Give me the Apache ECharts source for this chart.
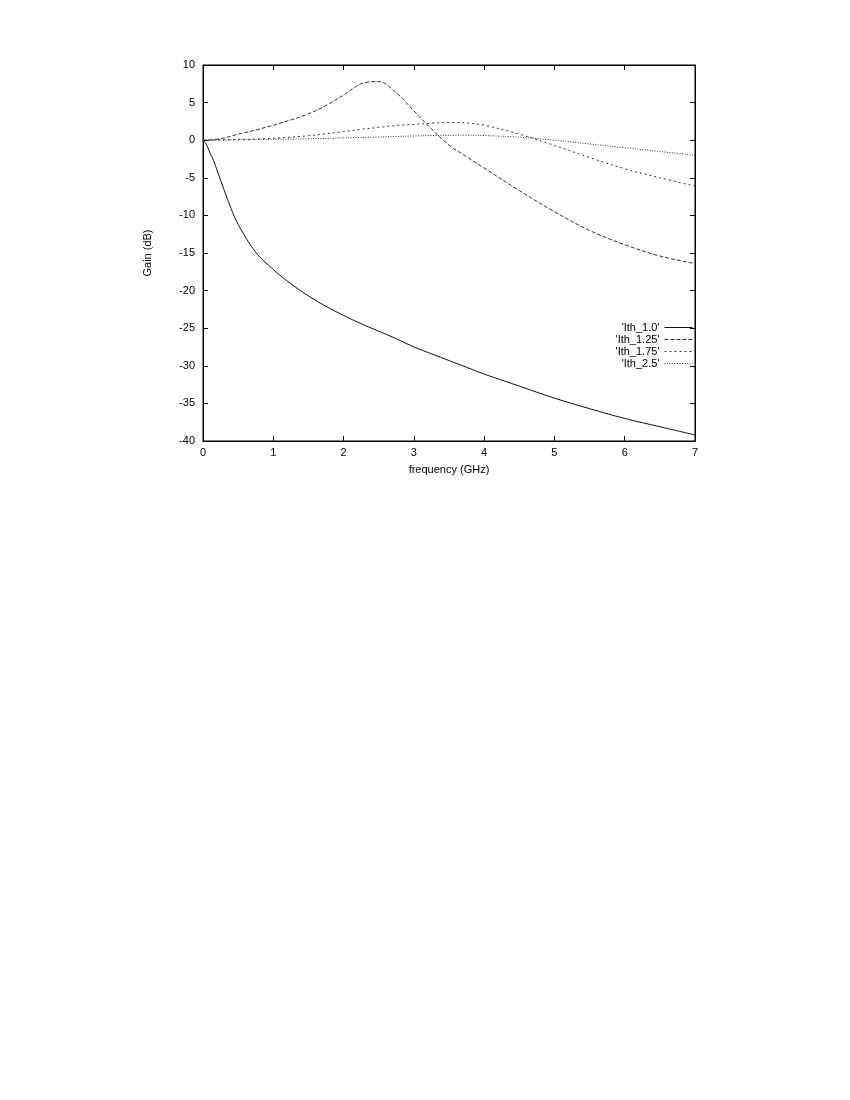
<!DOCTYPE html>
<html>
<head>
<meta charset="utf-8">
<script src="https://cdn.jsdelivr.net/npm/echarts@6/dist/echarts.min.js"></script>
<style>
  body { margin: 0; background: #fff; }
  #gain { width: 850px; height: 1100px; }
</style>
</head>
<body>
<div id="gain"></div>
<script>
// frequency points (GHz)
const freq = [0, 0.05, 0.1, 0.15, 0.2, 0.3, 0.4, 0.5, 0.75, 1, 1.25, 1.5, 1.75, 2, 2.25, 2.5, 2.75, 3, 3.25, 3.5, 3.75, 4, 4.5, 5, 5.5, 6, 6.5, 7];

// gain (dB) for each threshold current
const ith10 = [0, -0.6, -1.7, -2.7, -4.0, -6.6, -9.1, -11.2, -14.9, -17.2, -19.1, -20.7, -22.1, -23.3, -24.4, -25.4, -26.4, -27.5, -28.4, -29.3, -30.2, -31.1, -32.7, -34.3, -35.7, -37.0, -38.1, -39.2];
const ith125 = [0, 0.01, 0.04, 0.08, 0.13, 0.3, 0.55, 0.8, 1.35, 2.0, 2.7, 3.5, 4.6, 6.0, 7.5, 7.8, 6.3, 3.9, 1.5, -0.65, -2.2, -3.7, -6.7, -9.5, -12.0, -13.9, -15.4, -16.4];
const ith175 = [0, 0, 0.01, 0.02, 0.03, 0.05, 0.07, 0.09, 0.14, 0.25, 0.4, 0.6, 0.85, 1.15, 1.45, 1.7, 1.95, 2.1, 2.25, 2.35, 2.3, 2.0, 0.8, -0.7, -2.3, -3.8, -5.0, -6.1];
const ith25 = [0, 0, 0, 0.01, 0.01, 0.02, 0.03, 0.05, 0.08, 0.12, 0.15, 0.19, 0.23, 0.3, 0.36, 0.42, 0.5, 0.56, 0.62, 0.65, 0.66, 0.62, 0.4, 0.0, -0.5, -1.0, -1.5, -2.0];

const seriesNames = ["'Ith_1.0'", "'Ith_1.25'", "'Ith_1.75'", "'Ith_2.5'"];

const pairs = (ys) => freq.map((f, i) => [f, ys[i]]);

const chart = echarts.init(document.getElementById('gain'));

const font = { fontFamily: 'Liberation Sans, Arial, sans-serif', fontSize: 11, color: '#000' };

const mkLine = (name, ys, color, type) => ({
  name: name,
  type: 'line',
  smooth: 0.35,
  symbol: 'none',
  itemStyle: { color: color },
  lineStyle: { color: color, width: 1, type: type },
  data: pairs(ys)
});

chart.setOption({
  animation: false,
  backgroundColor: '#fff',
  textStyle: font,
  grid: {
    left: 203,
    right: 155,
    top: 65,
    bottom: 659,
    show: true,
    borderColor: '#000',
    borderWidth: 1
  },
  legend: {
    orient: 'vertical',
    right: 152,
    top: 317,
    align: 'right',
    itemWidth: 28,
    itemHeight: 8,
    itemGap: 1,
    itemStyle: { opacity: 0 },
    lineStyle: { width: 1 },
    textStyle: Object.assign({}, font, { width: 58, align: 'right', lineHeight: 11 }),
    data: seriesNames
  },
  xAxis: [
    {
      type: 'value',
      min: 0,
      max: 7,
      interval: 1,
      name: 'frequency (GHz)',
      nameLocation: 'middle',
      nameGap: 23,
      nameTextStyle: font,
      axisLine: { onZero: false, lineStyle: { color: '#000' } },
      axisTick: { inside: true, length: 5, lineStyle: { color: '#000' } },
      axisLabel: Object.assign({ margin: 6 }, font),
      splitLine: { show: false }
    },
    {
      type: 'value',
      position: 'top',
      min: 0,
      max: 7,
      interval: 1,
      axisLine: { onZero: false, lineStyle: { color: '#000' } },
      axisTick: { inside: true, length: 5, lineStyle: { color: '#000' } },
      axisLabel: { show: false },
      splitLine: { show: false }
    }
  ],
  yAxis: [
    {
      type: 'value',
      min: -40,
      max: 10,
      interval: 5,
      name: 'Gain (dB)',
      nameLocation: 'middle',
      nameGap: 50,
      nameRotate: 90,
      nameTextStyle: font,
      axisLine: { show: true, onZero: false, lineStyle: { color: '#000' } },
      axisTick: { show: true, inside: true, length: 5, lineStyle: { color: '#000' } },
      axisLabel: Object.assign({ margin: 8 }, font),
      splitLine: { show: false }
    },
    {
      type: 'value',
      position: 'right',
      min: -40,
      max: 10,
      interval: 5,
      axisLine: { show: true, onZero: false, lineStyle: { color: '#000' } },
      axisTick: { show: true, inside: true, length: 5, lineStyle: { color: '#000' } },
      axisLabel: { show: false },
      splitLine: { show: false }
    }
  ],
  series: [
    mkLine(seriesNames[0], ith10, '#111', 'solid'),
    mkLine(seriesNames[1], ith125, '#333', [4, 2]),
    mkLine(seriesNames[2], ith175, '#333', [2, 3]),
    mkLine(seriesNames[3], ith25, '#333', [1, 1.5])
  ]
});
</script>
</body>
</html>
